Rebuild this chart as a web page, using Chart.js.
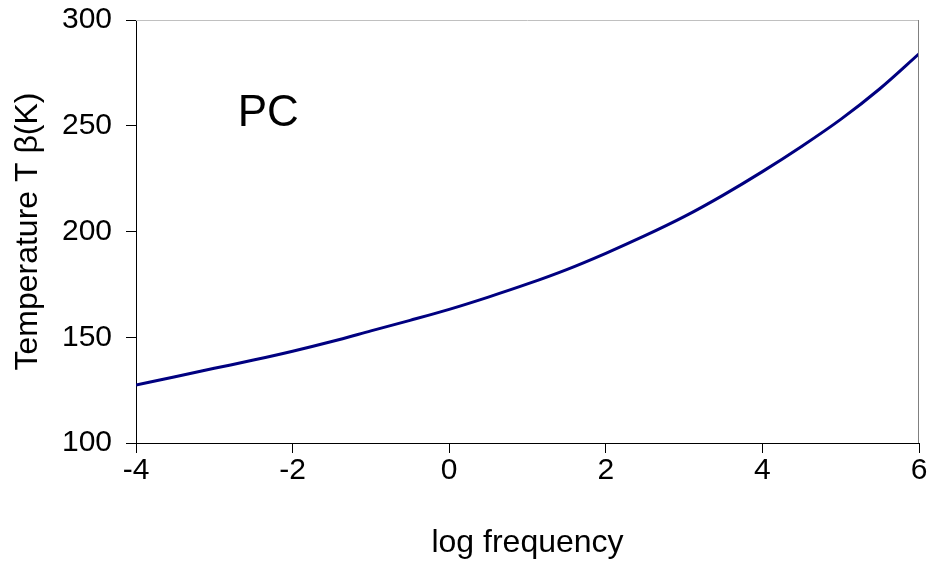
<!DOCTYPE html>
<html>
<head>
<meta charset="utf-8">
<script src="https://cdn.jsdelivr.net/npm/chart.js@4.4.1/dist/chart.umd.min.js"></script>
<style>
    html, body { margin: 0; padding: 0; background: #fff; }
    #wrap { width: 930px; height: 562px; }
</style>
</head>
<body>
<div id="wrap"><canvas id="tempChart" width="930" height="562"></canvas></div>
<script>
// Data
const logFreq = [-4, -3.5, -3, -2.5, -2, -1.5, -1, -0.5, 0, 0.5, 1, 1.5, 2, 2.5, 3, 3.5, 4, 4.5, 5, 5.5, 6];
const tempBeta = [127.4, 131.3, 135.3, 139.2, 143.4, 148, 153, 158, 163.2, 169, 175.2, 182, 189.7, 198, 207, 217.2, 228.3, 240.2, 253, 267.5, 284];
const xTicks = [-4, -2, 0, 2, 4, 6];
const yTicks = [100, 150, 200, 250, 300];
const seriesLabel = 'PC';

const FONT = "'Liberation Sans', Arial, sans-serif";

// Frame on top/right of plot area + label text
const framePlugin = {
    id: 'frame',
    afterDraw(chart) {
        const { ctx, chartArea: a, scales } = chart;
        ctx.save();
        ctx.lineWidth = 1;
        ctx.strokeStyle = '#c0c0c0';
        ctx.beginPath();
        ctx.moveTo(a.left, a.top + 0.5);
        ctx.lineTo(a.right, a.top + 0.5);
        ctx.stroke();
        ctx.strokeStyle = '#808080';
        ctx.beginPath();
        ctx.moveTo(a.right - 0.5, a.top);
        ctx.lineTo(a.right - 0.5, a.bottom);
        ctx.stroke();

        ctx.fillStyle = '#000';
        ctx.font = '44px ' + FONT;
        ctx.textAlign = 'center';
        ctx.textBaseline = 'middle';
        ctx.fillText(seriesLabel, scales.x.getPixelForValue(-2.31), scales.y.getPixelForValue(255.6));
        ctx.restore();
    }
};

new Chart(document.getElementById('tempChart').getContext('2d'), {
    type: 'scatter',
    data: {
        datasets: [{
            label: seriesLabel,
            data: logFreq.map((x, i) => ({ x: x, y: tempBeta[i] })),
            showLine: true,
            borderColor: '#000080',
            borderWidth: 3,
            pointRadius: 0,
            cubicInterpolationMode: 'monotone',
            fill: false
        }]
    },
    options: {
        responsive: false,
        animation: false,
        layout: { padding: { top: 20, right: 11, left: 0, bottom: 0 } },
        plugins: {
            legend: { display: false },
            tooltip: { enabled: false }
        },
        scales: {
            x: {
                type: 'linear',
                min: -4,
                max: 6,
                afterBuildTicks: s => { s.ticks = xTicks.map(v => ({ value: v })); },
                afterFit: s => { s.height = 119; s.paddingLeft = 0; s.paddingRight = 0; },
                grid: { drawOnChartArea: false, drawTicks: true, tickLength: 10, color: '#000' },
                border: { color: '#000', width: 1 },
                ticks: { color: '#000', font: { family: FONT, size: 30 }, padding: 0, maxRotation: 0 },
                title: {
                    display: true,
                    text: 'log frequency',
                    color: '#000',
                    font: { family: FONT, size: 32 },
                    padding: { top: 0, bottom: 0 }
                }
            },
            y: {
                min: 100,
                max: 300,
                afterBuildTicks: s => { s.ticks = yTicks.map(v => ({ value: v })); },
                afterFit: s => { s.width = 136; s.paddingTop = 0; s.paddingBottom = 0; },
                grid: { drawOnChartArea: false, drawTicks: true, tickLength: 10, color: '#000' },
                border: { color: '#000', width: 1 },
                ticks: { color: '#000', font: { family: FONT, size: 30 }, padding: 14 },
                title: {
                    display: true,
                    text: 'Temperature T β(K)',
                    color: '#000',
                    font: { family: FONT, size: 32 },
                    padding: { top: 9, bottom: 0 }
                }
            }
        }
    },
    plugins: [framePlugin]
});
</script>
</body>
</html>
